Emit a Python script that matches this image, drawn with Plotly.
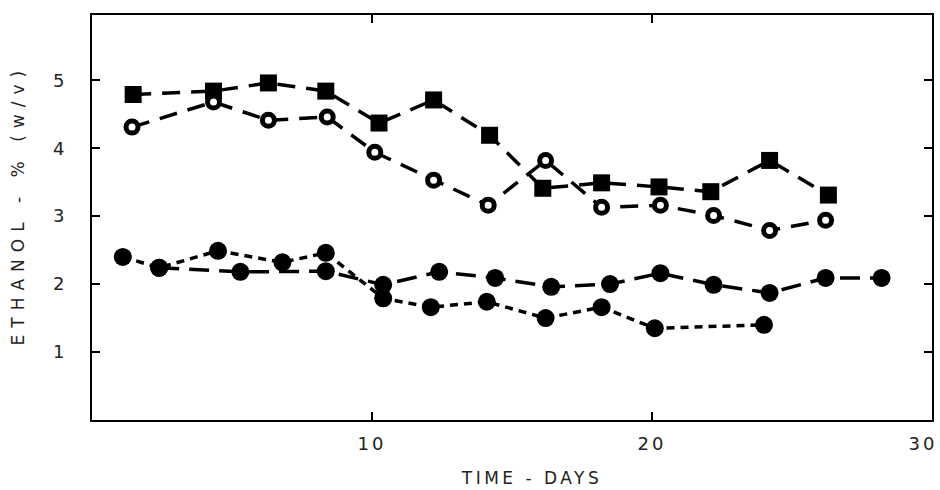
import plotly.graph_objects as go

# Filled squares series
sq_x = [1.47, 4.34, 6.3, 8.35, 10.25, 12.2, 14.2, 16.1, 18.2, 20.25, 22.1, 24.2, 26.3]
sq_y = [4.79, 4.84, 4.96, 4.84, 4.37, 4.71, 4.19, 3.41, 3.49, 3.43, 3.36, 3.82, 3.31]

# Open circles series
oc_x = [1.43, 4.34, 6.3, 8.4, 10.1, 12.2, 14.15, 16.2, 18.2, 20.3, 22.2, 24.2, 26.2]
oc_y = [4.31, 4.68, 4.41, 4.46, 3.94, 3.53, 3.16, 3.82, 3.13, 3.16, 3.01, 2.79, 2.94]

# Filled circles, long dashed
fl_x = [2.4, 5.3, 8.35, 10.4, 12.4, 14.4, 16.4, 18.5, 20.3, 22.2, 24.2, 26.2, 28.2]
fl_y = [2.24, 2.18, 2.19, 1.99, 2.18, 2.09, 1.96, 2.00, 2.16, 1.99, 1.87, 2.09, 2.09]

# Filled circles, short dashed
fs_x = [1.1, 2.4, 4.5, 6.8, 8.35, 10.4, 12.1, 14.1, 16.2, 18.2, 20.1, 24.0]
fs_y = [2.40, 2.24, 2.49, 2.32, 2.46, 1.79, 1.66, 1.74, 1.50, 1.66, 1.35, 1.40]

x_ticks = [10, 20, 30]
y_ticks = [1, 2, 3, 4, 5]
x_title = "TIME - DAYS"
y_title = "ETHANOL - % (w/v)"

fig = go.Figure()

fig.add_trace(go.Scatter(
    x=sq_x, y=sq_y, mode="lines+markers",
    line=dict(color="black", width=3.5, dash="18px,11px"),
    marker=dict(symbol="square", size=17, color="black"),
    showlegend=False))

fig.add_trace(go.Scatter(
    x=oc_x, y=oc_y, mode="lines+markers",
    line=dict(color="black", width=3.5, dash="18px,11px"),
    marker=dict(symbol="circle", size=12, color="white",
                line=dict(color="black", width=5)),
    showlegend=False))

fig.add_trace(go.Scatter(
    x=fl_x, y=fl_y, mode="lines+markers",
    line=dict(color="black", width=3.5, dash="20px,10px"),
    marker=dict(symbol="circle", size=18, color="black"),
    showlegend=False))

fig.add_trace(go.Scatter(
    x=fs_x, y=fs_y, mode="lines+markers",
    line=dict(color="black", width=3.5, dash="8px,6px"),
    marker=dict(symbol="circle", size=18, color="black"),
    showlegend=False))

tick_font = dict(family="DejaVu Sans", size=18, color="#222222")
title_font = dict(family="DejaVu Sans", size=17, color="#222222")

fig.update_layout(
    width=940, height=490,
    margin=dict(l=92, r=8, t=15, b=70, autoexpand=False),
    paper_bgcolor="white", plot_bgcolor="white",
    xaxis=dict(
        range=[0, 30], tickvals=x_ticks, ticktext=[str(v) for v in x_ticks],
        ticks="inside", ticklen=8, tickwidth=1.5, tickcolor="black",
        showline=True, linecolor="black", linewidth=1.8, mirror="ticks",
        showgrid=False, zeroline=False, automargin=False,
        tickfont=tick_font, ticklabelstandoff=6, ticklabeloverflow="allow",
    ),
    yaxis=dict(
        range=[0, 5.96], tickvals=y_ticks, ticktext=[str(v) for v in y_ticks],
        ticks="inside", ticklen=8, tickwidth=1.5, tickcolor="black",
        showline=True, linecolor="black", linewidth=1.8, mirror="ticks",
        showgrid=False, zeroline=False, automargin=False,
        tickfont=tick_font, ticklabelstandoff=22,
    ),
    annotations=[
        dict(text=x_title, xref="paper", yref="paper", x=0.523, y=0,
             yshift=-58, showarrow=False, font=title_font,
             xanchor="center", yanchor="middle"),
        dict(text=y_title, xref="paper", yref="paper", x=0, y=0.531,
             xshift=-74, showarrow=False, font=title_font, textangle=-90,
             xanchor="center", yanchor="middle"),
    ],
)

post = """
document.body.style.margin='0';
document.documentElement.style.margin='0';
var anns = document.querySelectorAll('.annotation-text');
if (anns.length > 0) { anns[0].style.letterSpacing='3.5px'; }
if (anns.length > 1) { anns[1].style.letterSpacing='7px'; }
var xt = document.querySelectorAll('g.xtick text');
xt.forEach(function(e){e.style.letterSpacing='3px';});
if (xt.length > 0) { xt[xt.length-1].setAttribute('dx','-9'); }
"""

fig.write_html("out.html", post_script=post, config={"displayModeBar": False})
